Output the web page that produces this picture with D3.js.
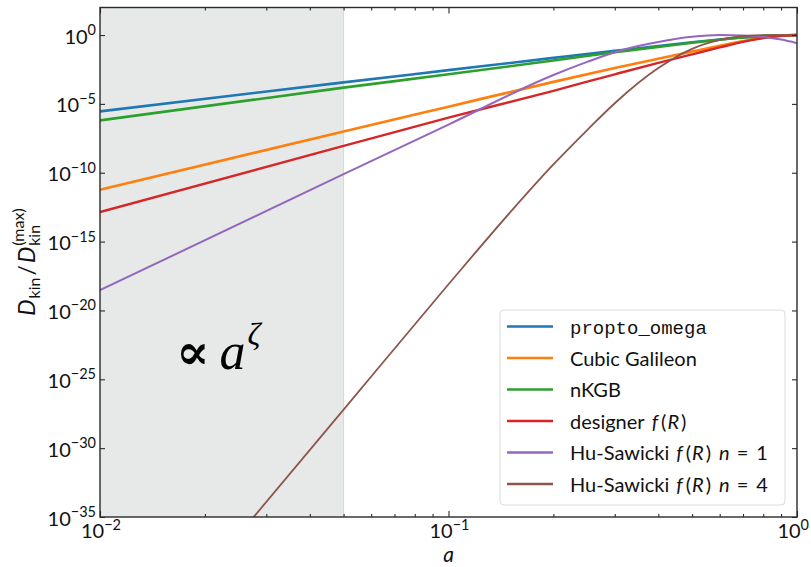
<!DOCTYPE html>
<html><head><meta charset="utf-8">
<script src="https://cdn.jsdelivr.net/npm/d3@7"></script>
<style>
body{margin:0;background:#fff;}
svg{display:block;}
</style></head><body>
<svg id="chart" width="811" height="567"></svg>
<script>
// ---------- data ----------
const seriesNames = ["propto_omega", "Cubic Galileon", "nKGB", "designer f(R)",
                     "Hu-Sawicki f(R) n = 1", "Hu-Sawicki f(R) n = 4"];

// scale factor samples shared by the first four models
const aCommon = [0.01, 0.05, 0.1, 0.2, 0.3, 0.4, 0.5, 0.6, 0.7, 0.8, 0.9, 1.0];
const dProptoOmega   = [2.88e-6, 3.63e-4, 2.82e-3, 2.19e-2, 7.08e-2, 0.158, 0.302, 0.479, 0.676, 0.851, 0.955, 1];
const dCubicGalileon = [5.89e-12, 1.0e-7, 6.31e-6, 3.98e-4, 3.98e-3, 1.91e-2, 6.31e-2, 0.166, 0.363, 0.646, 0.891, 1];
const dNKGB          = [6.31e-7, 1.51e-4, 1.41e-3, 1.41e-2, 5.62e-2, 0.138, 0.275, 0.457, 0.661, 0.832, 0.955, 1];
const dDesignerFR    = [1.41e-13, 8.91e-9, 1.0e-6, 8.91e-5, 1.41e-3, 9.55e-3, 3.98e-2, 0.126, 0.316, 0.603, 0.871, 1];

const aHuSawicki1 = [0.01, 0.05, 0.1, 0.2, 0.25, 0.3, 0.35, 0.4, 0.5, 0.6, 0.7, 0.8, 0.9, 1.0];
const dHuSawicki1 = [2.95e-19, 7.94e-11, 3.16e-7, 1.26e-3, 1.12e-2, 5.62e-2, 0.158, 0.316, 0.741, 1.0, 0.933, 0.724, 0.468, 0.257];

const aHuSawicki4 = [0.025, 0.05, 0.1, 0.15, 0.2, 0.25, 0.3, 0.4, 0.5, 0.6, 0.7, 0.8, 0.9, 1.0];
const dHuSawicki4 = [5.01e-37, 6.31e-28, 7.94e-19, 1.26e-13, 3.98e-10, 1.26e-7, 1.12e-5, 3.98e-3, 0.1, 0.447, 0.832, 1, 0.989, 0.955];

const xMajorTicks = [0.01, 0.1, 1];
const xMinorTicks = [0.02, 0.03, 0.04, 0.05, 0.06, 0.07, 0.08, 0.09,
                     0.2, 0.3, 0.4, 0.5, 0.6, 0.7, 0.8, 0.9];
const yTicks = [1e0, 1e-5, 1e-10, 1e-15, 1e-20, 1e-25, 1e-30, 1e-35];
const shadedRange = [0.01, 0.05];

// ---------- styling ----------
const colors = ["#1f77b4", "#ff7f0e", "#2ca02c", "#d62728", "#9467bd", "#8c564b"];
const widths = [2.6, 2.6, 2.6, 2.4, 2.0, 1.8];
const sans = "Lato, 'Open Sans', sans-serif";
const mono = "'Liberation Mono', 'DejaVu Sans Mono', monospace";

const series = [
  {a: aCommon, d: dProptoOmega},
  {a: aCommon, d: dCubicGalileon},
  {a: aCommon, d: dNKGB},
  {a: aCommon, d: dDesignerFR},
  {a: aHuSawicki1, d: dHuSawicki1},
  {a: aHuSawicki4, d: dHuSawicki4}
].map((s, i) => ({name: seriesNames[i], color: colors[i], width: widths[i],
                  pts: s.a.map((a, j) => [a, s.d[j]])}));

const L = 100, R = 797, T = 7.5, B = 517;
const svg = d3.select("#chart");
const x = d3.scaleLog().domain([0.01, 1]).range([L, R]);
const y = d3.scaleLog().domain([1e-35, 1e2]).range([B, T]);

svg.append("defs").append("clipPath").attr("id", "plotclip")
  .append("rect").attr("x", L).attr("y", T).attr("width", R - L).attr("height", B - T);

// shaded early-time region
svg.append("rect")
  .attr("x", x(shadedRange[0])).attr("y", T)
  .attr("width", x(shadedRange[1]) - x(shadedRange[0])).attr("height", B - T)
  .attr("fill", "#e7e9e8");
svg.append("line")
  .attr("x1", x(shadedRange[1])).attr("x2", x(shadedRange[1]))
  .attr("y1", T).attr("y2", B).attr("stroke", "#d6d8d7").attr("stroke-width", 1);

// curves
const line = d3.line().x(p => x(p[0])).y(p => y(p[1])).curve(d3.curveMonotoneX);
const gLines = svg.append("g").attr("clip-path", "url(#plotclip)");
series.forEach(s => {
  gLines.append("path").attr("d", line(s.pts))
    .attr("fill", "none").attr("stroke", s.color).attr("stroke-width", s.width)
    .attr("stroke-linejoin", "round");
});

// axes: inward ticks on all four sides
const axColor = "#2a2a2a";
function styleAxis(g) {
  g.select(".domain").remove();
  g.selectAll(".tick line").attr("stroke", axColor).attr("stroke-width", 1.1);
}
const fmtNone = () => "";
svg.append("g").attr("transform", `translate(0,${B})`)
  .call(d3.axisBottom(x).tickValues(xMajorTicks).tickSize(-6).tickFormat(fmtNone)).call(styleAxis);
svg.append("g").attr("transform", `translate(0,${B})`)
  .call(d3.axisBottom(x).tickValues(xMinorTicks).tickSize(-3).tickFormat(fmtNone)).call(styleAxis);
svg.append("g").attr("transform", `translate(0,${T})`)
  .call(d3.axisTop(x).tickValues(xMajorTicks).tickSize(-6).tickFormat(fmtNone)).call(styleAxis);
svg.append("g").attr("transform", `translate(0,${T})`)
  .call(d3.axisTop(x).tickValues(xMinorTicks).tickSize(-3).tickFormat(fmtNone)).call(styleAxis);
svg.append("g").attr("transform", `translate(${L},0)`)
  .call(d3.axisLeft(y).tickValues(yTicks).tickSize(-5).tickFormat(fmtNone)).call(styleAxis);
svg.append("g").attr("transform", `translate(${R},0)`)
  .call(d3.axisRight(y).tickValues(yTicks).tickSize(-5).tickFormat(fmtNone)).call(styleAxis);

svg.append("rect").attr("x", L).attr("y", T).attr("width", R - L).attr("height", B - T)
  .attr("fill", "none").attr("stroke", axColor).attr("stroke-width", 1.4);

// power-of-ten tick labels
function powLabel(g, v, px, py, anchor) {
  const e = Math.round(Math.log10(v));
  const t = g.append("text").attr("x", px).attr("y", py)
    .attr("font-family", sans).attr("font-size", 20).attr("fill", "#111")
    .attr("text-anchor", anchor);
  t.append("tspan").text("10");
  t.append("tspan").attr("dy", -8.5).attr("font-size", 14.5)
    .text(e < 0 ? "\u2212" + Math.abs(e) : String(e));
  return t;
}
const gLab = svg.append("g");
yTicks.forEach(v => powLabel(gLab, v, 96, y(v) + 8.5, "end"));
xMajorTicks.forEach(v => {
  const t = powLabel(gLab, v, x(v) + 1, 538, "middle");
  const bb = t.node().getBBox();
  if (bb.x + bb.width > 809) t.attr("x", x(v) + 1 - (bb.x + bb.width - 809));
});

// axis titles
svg.append("text").attr("x", x(0.1)).attr("y", 562)
  .attr("font-family", sans).attr("font-size", 21).attr("font-style", "italic")
  .attr("text-anchor", "middle").attr("fill", "#111").text("a");

const yl = svg.append("g").attr("transform", "translate(35,262) rotate(-90)");
const ylt = yl.append("text").attr("font-family", sans).attr("font-size", 23).attr("fill", "#111");
ylt.append("tspan").attr("font-style", "italic").text("D");
ylt.append("tspan").attr("font-size", 16).attr("dy", 5).attr("dx", 1).text("kin");
ylt.append("tspan").attr("dy", -5).attr("dx", 2).text("/");
ylt.append("tspan").attr("font-style", "italic").attr("dx", 2).text("D");
const kin2 = ylt.append("tspan").attr("font-size", 16).attr("dy", 5).attr("dx", 1).text("kin");
const maxT = ylt.append("tspan").attr("font-size", 16).attr("dy", -16).text("(max)");
{
  const kw = kin2.node().getComputedTextLength();
  maxT.attr("dx", -kw);
  const bb = ylt.node().getBBox();
  ylt.attr("x", -bb.width / 2);
}

// proportionality annotation
const ann = svg.append("text").attr("x", 176).attr("y", 369)
  .attr("font-family", "'Liberation Serif', 'DejaVu Serif', serif").attr("fill", "#000");
ann.append("tspan").attr("font-size", 50).attr("font-weight", "bold").text("\u221D");
ann.append("tspan").attr("font-size", 52).attr("font-style", "italic").attr("dx", 10).text("a");
ann.append("tspan").attr("font-size", 32).attr("font-style", "italic").attr("dy", -24).attr("dx", 2).text("\u03B6");

// legend
const lg = svg.append("g");
lg.append("rect").attr("x", 500).attr("y", 310).attr("width", 285).attr("height", 195)
  .attr("rx", 4).attr("fill", "#fff").attr("fill-opacity", 0.85)
  .attr("stroke", "#dcdcdc").attr("stroke-width", 1);

// label pieces: i = italic (math), gap = extra space before the piece
const fR = [{t: "f", i: 1, gap: 7}, {t: "(", gap: 3}, {t: "R", i: 1, gap: 1}, {t: ")", gap: 2}];
const legendParts = [
  [{t: "propto_omega", mono: true}],
  [{t: "Cubic Galileon"}],
  [{t: "nKGB"}],
  [{t: "designer"}, ...fR],
  [{t: "Hu-Sawicki"}, ...fR, {t: "n", i: 1, gap: 8}, {t: "=", gap: 7}, {t: "1", gap: 8}],
  [{t: "Hu-Sawicki"}, ...fR, {t: "n", i: 1, gap: 8}, {t: "=", gap: 7}, {t: "4", gap: 8}]
];
series.forEach((s, i) => {
  const yy = 326.5 + i * 31.5;
  lg.append("line").attr("x1", 507).attr("x2", 553).attr("y1", yy).attr("y2", yy)
    .attr("stroke", s.color).attr("stroke-width", 2.6);
  const t = lg.append("text").attr("x", 570).attr("y", yy + 7.5)
    .attr("font-family", sans).attr("font-size", 20).attr("fill", "#111");
  legendParts[i].forEach(p => {
    const sp = t.append("tspan").text(p.t);
    if (p.gap) sp.attr("dx", p.gap);
    if (p.i) sp.attr("font-style", "italic");
    if (p.mono) sp.attr("font-family", mono).attr("font-size", 19);
  });
});
</script>
</body></html>
